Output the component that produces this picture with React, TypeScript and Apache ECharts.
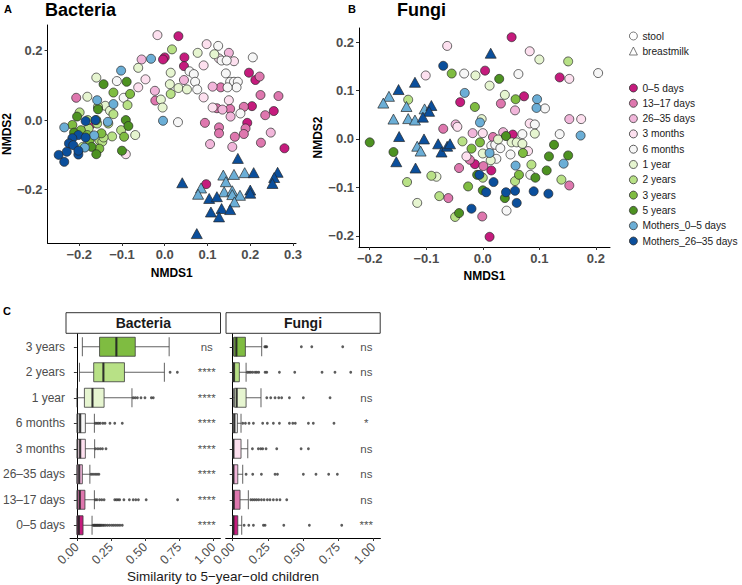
import React, { useEffect, useRef } from 'react';
import * as echarts from 'echarts';

// ---------- groups ----------
const GROUPS = ['0–5 days', '13–17 days', '26–35 days', '3 months', '6 months', '1 year', '2 years', '3 years', '5 years', 'Mothers_0–5 days', 'Mothers_26–35 days'];
const GROUP_COLORS = ['#c51b7d', '#de77ae', '#f1b6da', '#fde0ef', '#f7f7f7', '#e6f5d0', '#b8e186', '#7fbc41', '#4d9221', '#6baed6', '#0b4f9c'];

// ---------- Panel A: Bacteria NMDS (stool = circles) ----------
const bac_0_5 = [[0.032, 0.241], [0.0, 0.180], [-0.004, 0.174], [0.046, 0.18], [0.045, 0.155], [0.197, 0.136], [0.212, 0.115], [0.204, 0.04], [0.255, 0.026], [0.193, -0.008], [0.28, -0.081], [-0.174, -0.014], [0.097, -0.184]];
const bac_13_17 = [[-0.022, 0.056], [0.131, 0.094], [0.222, 0.125], [0.153, 0.032], [0.185, 0.038], [0.224, 0.072], [0.266, 0.069], [0.235, 0.014], [0.189, -0.024], [0.185, -0.04], [0.164, -0.048], [0.127, -0.021], [0.127, -0.038], [0.094, -0.008], [0.225, -0.065], [-0.207, 0.064], [0.122, 0.034]];
const bac_26_35 = [[-0.054, 0.174], [-0.023, 0.084], [0.045, 0.115], [0.112, 0.096], [0.15, 0.193], [0.135, 0.03], [0.158, -0.077], [0.106, -0.069], [0.248, -0.036], [0.154, 0.01]];
const bac_3m = [[-0.017, 0.244], [-0.045, 0.117], [-0.062, 0.094], [0.091, 0.157], [0.098, 0.218], [0.127, 0.177], [0.162, 0.169], [0.091, 0.065], [0.112, 0.036], [0.15, 0.057], [-0.091, -0.098]];
const bac_6m = [[0.058, 0.14], [0.068, 0.132], [0.071, 0.11], [0.076, 0.088], [0.125, 0.213], [0.133, 0.171], [0.145, 0.171], [0.206, 0.18], [0.143, 0.134], [0.153, 0.11], [0.162, 0.11], [0.171, 0.11], [0.168, 0.094], [0.147, 0.094], [0.177, 0.019], [0.031, -0.006], [-0.112, 0.112], [-0.096, 0.064]];
const bac_1y = [[-0.062, 0.15], [0.014, 0.136], [0.012, 0.103], [-0.009, 0.059], [-0.005, 0.036], [0.032, 0.092], [0.052, 0.088], [0.077, 0.193], [0.116, 0.189], [-0.16, 0.122], [-0.181, 0.067], [-0.139, 0.041], [-0.128, 0.027], [-0.069, -0.043]];
const bac_2y = [[0.017, 0.203], [0.014, 0.075], [-0.087, 0.043], [-0.156, 0.038], [-0.12, 0.017], [-0.199, 0.022], [-0.158, -0.01], [-0.178, -0.024], [-0.192, -0.077], [-0.153, -0.058], [-0.146, -0.062], [-0.123, -0.047], [-0.132, -0.01], [-0.102, -0.029], [-0.143, -0.05], [-0.18, 0.0]];
const bac_3y = [[-0.12, 0.079], [-0.081, 0.075], [-0.216, -0.014], [-0.196, -0.029], [-0.181, -0.043], [-0.176, -0.058], [-0.153, -0.082], [-0.148, -0.038], [-0.095, -0.048], [-0.16, 0.0]];
const bac_5y = [[-0.143, 0.103], [-0.089, 0.11], [-0.156, 0.031], [-0.205, 0.01], [-0.212, -0.036], [-0.171, -0.077], [-0.16, -0.098], [-0.091, 0.0], [-0.085, -0.017], [-0.1, -0.088]];
const bac_m05 = [[-0.032, 0.176], [-0.102, 0.142], [-0.158, 0.057], [-0.12, 0.046], [-0.133, -0.005], [-0.235, -0.021], [-0.004, -0.002], [-0.187, -0.079], [-0.165, -0.044]];
const bac_m2635 = [[-0.185, -0.003], [-0.202, -0.043], [-0.216, -0.052], [-0.224, -0.067], [-0.214, -0.072], [-0.248, -0.1], [-0.235, -0.12], [-0.229, -0.091], [-0.202, -0.099], [-0.202, -0.088], [-0.162, 0.0], [-0.185, -0.05]];
// breastmilk = triangles
const bacMilk_m05 = [[0.137, -0.158], [0.162, -0.156], [0.187, -0.151], [0.143, -0.177], [0.085, -0.195], [0.078, -0.213], [0.139, -0.206], [0.158, -0.203], [0.158, -0.214], [0.176, -0.216], [0.163, -0.235]];
const bacMilk_m2635 = [[0.171, -0.11], [0.041, -0.18], [0.208, -0.151], [0.264, -0.15], [0.256, -0.165], [0.252, -0.182], [0.104, -0.225], [0.122, -0.22], [0.2, -0.201], [0.2, -0.21], [0.108, -0.264], [0.133, -0.254], [0.153, -0.257], [0.127, -0.278], [0.075, -0.326]];

// ---------- Panel B: Fungi NMDS ----------
const fun_0_5 = [[0.051, 0.21], [0.004, 0.141], [0.136, 0.127], [-0.04, 0.076], [0.073, 0.088], [0.053, 0.009], [-0.014, -0.052], [0.015, -0.065], [0.012, -0.202]];
const fun_13_17 = [[0.032, 0.073], [-0.07, 0.021], [0.018, 0.004], [-0.023, -0.043], [0.001, -0.056], [-0.042, -0.06], [0.153, -0.096], [-0.061, -0.122], [-0.001, -0.16]];
const fun_26_35 = [[0.057, 0.059], [0.036, 0.014], [0.153, 0.041], [-0.018, 0.012], [-0.048, 0.03]];
const fun_3m = [[-0.063, 0.192], [0.083, 0.181], [0.153, 0.124], [-0.101, 0.131], [-0.045, 0.025], [0.083, 0.032], [0.174, 0.041], [0.0, 0.012], [0.08, -0.025], [-0.029, -0.036]];
const fun_6m = [[-0.033, 0.135], [0.063, 0.134], [0.204, 0.136], [0.11, 0.063], [0.07, 0.01], [0.092, 0.03], [0.136, 0.01], [0.015, -0.014], [0.022, -0.012], [0.031, -0.019], [0.049, -0.032], [0.024, -0.041], [0.084, -0.074], [0.042, -0.148]];
const fun_1y = [[0.1, 0.164], [-0.013, 0.131], [0.012, 0.11], [0.039, 0.091], [-0.002, 0.041], [0.092, 0.011], [0.027, -0.001], [0.051, -0.007], [0.06, -0.007], [0.0, -0.03], [0.014, -0.044], [-0.082, -0.078], [-0.116, -0.132], [0.07, -0.01]];
const fun_2y = [[0.151, 0.16], [-0.132, 0.081], [-0.036, -0.005], [0.086, -0.053], [0.057, -0.087], [0.0, -0.08], [-0.091, -0.076], [-0.134, -0.089], [-0.077, -0.118], [0.139, -0.084], [-0.049, -0.161]];
const fun_3y = [[-0.055, 0.135], [0.058, 0.082], [-0.014, 0.066], [-0.02, -0.02], [-0.005, -0.007], [0.071, -0.029], [0.064, -0.074], [-0.026, -0.098]];
const fun_5y = [[0.029, 0.124], [-0.2, -0.007], [-0.158, -0.027], [0.041, 0.006], [-0.01, -0.074], [0.093, -0.08], [0.113, -0.065], [0.117, -0.036], [0.126, -0.012], [0.151, -0.034], [-0.042, -0.153], [0.039, -0.122], [0.0, -0.106]];
const fun_m05 = [[-0.032, 0.095], [0.096, 0.082], [0.095, 0.064], [-0.005, 0.034], [0.173, 0.007], [0.012, -0.029], [0.058, -0.055], [0.143, -0.051]];
const fun_m2635 = [[-0.07, 0.151], [-0.006, -0.074], [0.019, -0.089], [0.041, -0.11], [0.057, -0.107], [0.09, -0.108], [0.116, -0.113], [0.006, -0.11], [-0.02, -0.144], [0.06, -0.132]];
const funMilk_m05 = [[-0.166, 0.088], [-0.176, 0.074], [-0.135, 0.067], [-0.103, 0.062], [-0.158, 0.041], [-0.132, 0.042], [-0.12, 0.039], [-0.116, -0.015], [-0.11, -0.025]];
const funMilk_m2635 = [[0.014, 0.177], [-0.12, 0.117], [-0.149, 0.102], [-0.091, 0.069], [-0.095, 0.057], [-0.106, 0.045], [-0.148, 0.005], [-0.104, 0.0], [-0.079, -0.01], [-0.073, -0.027], [-0.063, -0.015], [-0.058, -0.01], [-0.153, -0.047], [-0.119, -0.06]];

// ---------- Panel C: similarity boxplots ----------
const CATS = ['0–5 days', '13–17 days', '26–35 days', '3 months', '6 months', '1 year', '2 years', '3 years'];
const CAT_COLORS = ['#c51b7d', '#de77ae', '#f1b6da', '#fde0ef', '#f7f7f7', '#e6f5d0', '#b8e186', '#7fbc41'];
// [min, Q1, median, Q3, max]
const bacBox = [[0, 0.002, 0.014, 0.045, 0.111], [0, 0.005, 0.021, 0.059, 0.128], [0, 0.002, 0.017, 0.04, 0.095], [0, 0.007, 0.024, 0.062, 0.13], [0, 0.007, 0.024, 0.062, 0.128], [0, 0.055, 0.114, 0.199, 0.403], [0.019, 0.123, 0.194, 0.348, 0.64], [0.04, 0.166, 0.289, 0.427, 0.675]];
const bacOut = [
  [0.118, 0.125, 0.13, 0.137, 0.142, 0.149, 0.154, 0.161, 0.166, 0.173, 0.18, 0.19, 0.199, 0.211, 0.225, 0.24, 0.256, 0.27, 0.285, 0.3, 0.315, 0.332],
  [0.135, 0.147, 0.166, 0.182, 0.199, 0.277, 0.289, 0.301, 0.313, 0.344, 0.384, 0.412, 0.431, 0.45, 0.507, 0.737],
  [0.104, 0.118, 0.133, 0.147, 0.161],
  [0.137, 0.154, 0.171, 0.187, 0.213],
  [0.135, 0.147, 0.159, 0.171, 0.19, 0.206, 0.242, 0.277, 0.332],
  [0.412, 0.427, 0.443, 0.469, 0.498, 0.545, 0.559],
  [0.682, 0.735],
  [],
];
const bacSig = ['****', '****', '****', '****', '****', '****', '****', 'ns'];
const funBox = [[0, 0.002, 0.005, 0.036, 0.064], [0, 0.002, 0.007, 0.052, 0.111], [0, 0.002, 0.005, 0.036, 0.071], [0, 0.002, 0.005, 0.059, 0.107], [0, 0.002, 0.012, 0.033, 0.059], [0.005, 0.012, 0.028, 0.095, 0.201], [0, 0.002, 0.009, 0.047, 0.095], [0.005, 0.009, 0.026, 0.09, 0.206]];
const funOut = [
  [0.081, 0.114, 0.147, 0.218, 0.23, 0.363, 0.545, 0.775],
  [0.128, 0.142, 0.156, 0.17, 0.185, 0.204, 0.223, 0.246, 0.265, 0.289, 0.313, 0.336, 0.384],
  [0.095, 0.142, 0.204, 0.301, 0.318, 0.502, 0.592, 0.682, 0.744],
  [0.14, 0.182, 0.199, 0.213, 0.237, 0.313, 0.486, 0.538],
  [0.071, 0.09, 0.116, 0.147, 0.213, 0.246, 0.289, 0.332, 0.403, 0.427, 0.445, 0.538, 0.573, 0.72],
  [0.242, 0.27, 0.301, 0.327, 0.348, 0.403, 0.502, 0.692],
  [0.104, 0.116, 0.128, 0.142, 0.159, 0.171, 0.185, 0.23, 0.242, 0.332, 0.441, 0.635, 0.727, 0.839],
  [0.228, 0.235, 0.242, 0.488, 0.562, 0.782],
];
const funSig = ['***', 'ns', 'ns', 'ns', '*', 'ns', 'ns', 'ns'];
const SIG_X = 0.95;

const NMDS_A_X_TICKS = [-0.2, -0.1, 0, 0.1, 0.2, 0.3];
const NMDS_A_Y_TICKS = [-0.2, 0, 0.2];
const NMDS_B_X_TICKS = [-0.2, -0.1, 0, 0.1, 0.2];
const NMDS_B_Y_TICKS = [-0.2, -0.1, 0, 0.1, 0.2];
const SIM_TICKS = [0, 0.25, 0.5, 0.75, 1];

const FONT = '"Liberation Sans", Arial, Helvetica, sans-serif';

function fmt1(v: number) {
  const r = Math.round(v * 10) / 10;
  return (r < 0 ? '−' : '') + Math.abs(r).toFixed(1);
}

function nmdsAxis(grid: number, min: number, max: number, ticks: number[], name: string, nameGap: number) {
  return {
    type: 'value', gridIndex: grid, min, max,
    name, nameLocation: 'middle', nameGap,
    nameTextStyle: { fontWeight: 'bold', fontSize: 12, color: '#000', fontFamily: FONT },
    axisLine: { show: true, onZero: false, lineStyle: { color: '#000', width: 1 } },
    axisTick: { show: true, length: 3, customValues: ticks, lineStyle: { color: '#333' } },
    axisLabel: { customValues: ticks, formatter: (v: number) => fmt1(v), fontWeight: 'bold', fontSize: 13, color: '#4d4d4d', margin: 5, fontFamily: FONT },
    splitLine: { show: false },
  };
}

function scatter(name: string, data: number[][], color: string, axis: number, tri: boolean) {
  return {
    type: 'scatter', name, xAxisIndex: axis, yAxisIndex: axis, data,
    symbol: tri ? 'triangle' : 'circle', symbolSize: tri ? [11, 10] : 9,
    itemStyle: { color, borderColor: '#262626', borderWidth: 0.7, opacity: 1 },
    emphasis: { disabled: true }, silent: true,
  };
}

function boxPanel(axis: number, box: number[][], outs: number[][], sig: string[]) {
  const series: any[] = [];
  series.push({
    type: 'boxplot', xAxisIndex: axis, yAxisIndex: axis, boxWidth: [19, 19],
    data: box.map((b, i) => ({ value: b, itemStyle: { color: CAT_COLORS[i], borderColor: '#3a3a3a', borderWidth: 0.8 } })),
    emphasis: { disabled: true }, silent: true,
  });
  series.push({
    type: 'scatter', xAxisIndex: axis, yAxisIndex: axis, symbol: 'rect', symbolSize: [2.2, 19],
    data: box.map((b, i) => [b[2], CATS[i]]), itemStyle: { color: '#222' }, silent: true, z: 5,
  });
  const od: any[] = [];
  outs.forEach((arr, i) => arr.forEach((v) => od.push([v, CATS[i]])));
  series.push({
    type: 'scatter', xAxisIndex: axis, yAxisIndex: axis, symbol: 'circle', symbolSize: 2.8,
    data: od, itemStyle: { color: '#333' }, silent: true,
  });
  series.push({
    type: 'scatter', xAxisIndex: axis, yAxisIndex: axis, symbolSize: 1,
    data: sig.map((s, i) => [SIG_X, CATS[i], s]),
    itemStyle: { color: 'rgba(0,0,0,0)' }, silent: true,
    label: { show: true, position: 'inside', formatter: (p: any) => p.data[2], fontSize: 11.5, color: '#1a1a1a', fontFamily: FONT },
  });
  return series;
}

function simX(grid: number) {
  return {
    type: 'value', gridIndex: grid, min: -0.05, max: 1.05,
    axisLine: { show: true, onZero: false, lineStyle: { color: '#000', width: 1 } },
    axisTick: { show: true, length: 3, customValues: SIM_TICKS, lineStyle: { color: '#333' } },
    axisLabel: { customValues: SIM_TICKS, formatter: (v: number) => v.toFixed(2), rotate: 45, fontSize: 12.5, color: '#4d4d4d', margin: 7, fontFamily: FONT },
    splitLine: { show: false },
  };
}
function simY(grid: number, labels: boolean) {
  return {
    type: 'category', gridIndex: grid, data: CATS,
    axisLine: { show: true, lineStyle: { color: '#000', width: 1 } },
    axisTick: { show: true, length: 3, alignWithLabel: true, lineStyle: { color: '#333' } },
    axisLabel: { show: labels, fontSize: 12, color: '#4d4d4d', margin: 5, fontFamily: FONT },
    splitLine: { show: false },
  };
}

export default function App() {
  const ref = useRef<HTMLDivElement>(null);
  useEffect(() => {
    if (!ref.current) return;
    const chart = echarts.init(ref.current, undefined, { renderer: 'svg' });
    const bacStool = [bac_0_5, bac_13_17, bac_26_35, bac_3m, bac_6m, bac_1y, bac_2y, bac_3y, bac_5y, bac_m05, bac_m2635];
    const funStool = [fun_0_5, fun_13_17, fun_26_35, fun_3m, fun_6m, fun_1y, fun_2y, fun_3y, fun_5y, fun_m05, fun_m2635];
    const series: any[] = [];
    series.push({ type: 'scatter', name: 'stool', xAxisIndex: 0, yAxisIndex: 0, data: [] });
    series.push({ type: 'scatter', name: 'breastmilk', xAxisIndex: 0, yAxisIndex: 0, data: [] });
    GROUPS.forEach((g, i) => series.push(scatter(g, bacStool[i], GROUP_COLORS[i], 0, false)));
    series.push(scatter(GROUPS[9], bacMilk_m05, GROUP_COLORS[9], 0, true));
    series.push(scatter(GROUPS[10], bacMilk_m2635, GROUP_COLORS[10], 0, true));
    GROUPS.forEach((g, i) => series.push(scatter(g, funStool[i], GROUP_COLORS[i], 1, false)));
    series.push(scatter(GROUPS[9], funMilk_m05, GROUP_COLORS[9], 1, true));
    series.push(scatter(GROUPS[10], funMilk_m2635, GROUP_COLORS[10], 1, true));
    series.push(...boxPanel(2, bacBox, bacOut, bacSig));
    series.push(...boxPanel(3, funBox, funOut, funSig));

    const legendText = { fontSize: 10.2, color: '#1a1a1a', fontFamily: FONT, lineHeight: 11 };
    const option: any = {
      animation: false,
      textStyle: { fontFamily: FONT },
      grid: [
        { left: 45, top: 25, width: 251, height: 218 },
        { left: 359, top: 28, width: 251, height: 219 },
        { left: 65.7, top: 334, width: 154.7, height: 204 },
        { left: 225.7, top: 334, width: 154.7, height: 204 },
      ],
      xAxis: [
        nmdsAxis(0, -0.274, 0.307, NMDS_A_X_TICKS, 'NMDS1', 24),
        nmdsAxis(1, -0.219, 0.225, NMDS_B_X_TICKS, 'NMDS1', 23),
        simX(2), simX(3),
      ],
      yAxis: [
        nmdsAxis(0, -0.353, 0.273, NMDS_A_Y_TICKS, 'NMDS2', 34),
        nmdsAxis(1, -0.223, 0.229, NMDS_B_Y_TICKS, 'NMDS2', 32),
        simY(2, true), simY(3, false),
      ],
      legend: [
        {
          orient: 'vertical', left: 624, top: 25.5, itemWidth: 8, itemHeight: 8, itemGap: 4, selectedMode: false,
          textStyle: legendText,
          data: [
            { name: 'stool', icon: 'circle', itemStyle: { color: '#fff', borderColor: '#333', borderWidth: 0.8 } },
            { name: 'breastmilk', icon: 'triangle', itemStyle: { color: '#fff', borderColor: '#333', borderWidth: 0.8 } },
          ],
        },
        {
          orient: 'vertical', left: 624, top: 77.5, itemWidth: 8, itemHeight: 8, itemGap: 4.3, selectedMode: false,
          textStyle: legendText,
          data: GROUPS.map((g, i) => ({ name: g, icon: 'circle', itemStyle: { color: GROUP_COLORS[i], borderColor: '#333', borderWidth: 0.8 } })),
        },
      ],
      graphic: [
        { type: 'text', left: 4, top: 3, style: { text: 'A', font: `bold 11px ${FONT}`, fill: '#000' } },
        { type: 'text', left: 45, top: 1, style: { text: 'Bacteria', font: `bold 18px ${FONT}`, fill: '#000' } },
        { type: 'text', left: 348, top: 3, style: { text: 'B', font: `bold 11px ${FONT}`, fill: '#000' } },
        { type: 'text', left: 397, top: 1, style: { text: 'Fungi', font: `bold 18px ${FONT}`, fill: '#000' } },
        { type: 'text', left: 3, top: 305, style: { text: 'C', font: `bold 11px ${FONT}`, fill: '#000' } },
        { type: 'rect', shape: { x: 66, y: 312.7, width: 154.5, height: 20.6 }, style: { fill: '#fff', stroke: '#333', lineWidth: 1 } },
        { type: 'text', x: 143.3, y: 323, style: { text: 'Bacteria', font: `bold 14px ${FONT}`, fill: '#1a1a1a', align: 'center', verticalAlign: 'middle' } },
        { type: 'rect', shape: { x: 226, y: 312.7, width: 154.2, height: 20.6 }, style: { fill: '#fff', stroke: '#333', lineWidth: 1 } },
        { type: 'text', x: 303, y: 323, style: { text: 'Fungi', font: `bold 14px ${FONT}`, fill: '#1a1a1a', align: 'center', verticalAlign: 'middle' } },
        { type: 'text', x: 223, y: 576, style: { text: 'Similarity to 5−year−old children', font: `13.5px ${FONT}`, fill: '#1a1a1a', align: 'center', verticalAlign: 'middle' } },
      ],
      series,
    };
    chart.setOption(option);
    return () => chart.dispose();
  }, []);
  return <div ref={ref} style={{ position: 'absolute', left: 0, top: 0, width: 742, height: 585, background: '#fff' }} />;
}
